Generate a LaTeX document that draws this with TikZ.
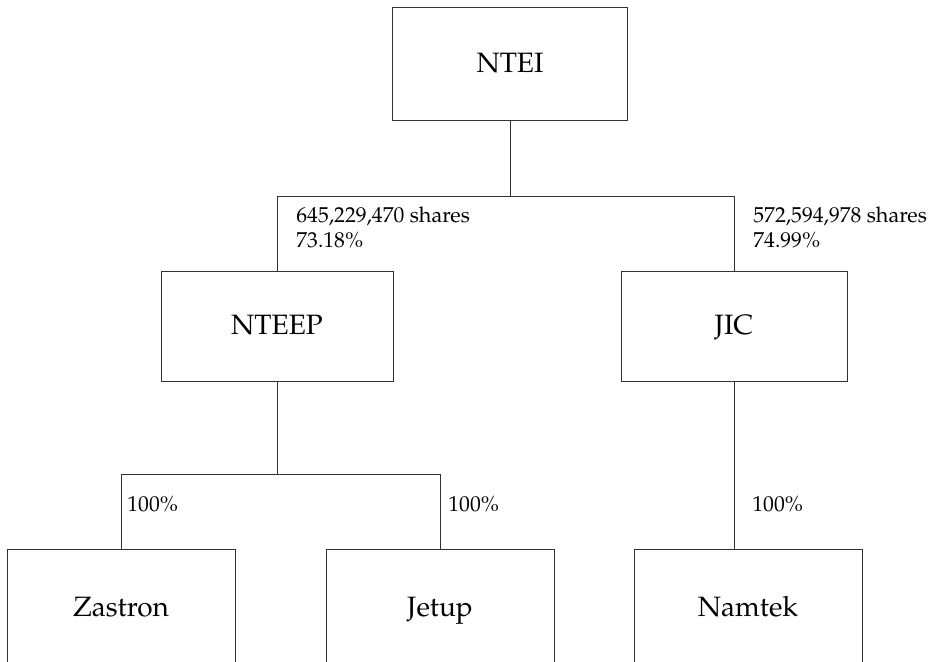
\documentclass[tikz,border=0pt]{standalone}
\usepackage[T1]{fontenc}
\usepackage{mathpazo}
\usetikzlibrary{positioning}

\tikzset{
    orgbox/.style={draw=black!80, line width=0.5pt, minimum width=115pt, minimum height=55pt, inner sep=0pt, text height=8.6pt, text depth=0pt, font=\fontsize{14}{17}\selectfont},
    linkline/.style={draw=black!80, line width=0.5pt},
    sharetext/.style={inner sep=0pt, align=left, font=\fontsize{10.8}{12.5}\selectfont}
}

\begin{document}
\begin{tikzpicture}[x=0.5pt, y=-0.5pt]
            \useasboundingbox (0,0) rectangle (934,661);
            % Boxes:
            % One per company, placed at coordinates:
            \node[orgbox, minimum width=117.5pt, minimum height=56.5pt] (NTEI) at (510,63.5) {NTEI};
            \node[orgbox, minimum width=116pt] (NTEEP) at (277,326) {NTEEP};
            \node[orgbox, minimum width=113pt] (JIC) at (734,326) {JIC};
            \node[orgbox, minimum width=114pt, minimum height=59pt] (Zastron) at (121,608) {Zastron};
            \node[orgbox, minimum width=114pt, minimum height=59pt] (Jetup) at (440,608) {Jetup};
            \node[orgbox, minimum width=114pt, minimum height=59pt] (Namtek) at (748,608) {Namtek};

            % Connectors:
            \coordinate (split1) at (510,196);
            \coordinate (split2) at (277,474);
            \draw[linkline] (NTEI.south) -- (split1);
            \draw[linkline] (NTEEP.north) |- (split1) -| (JIC.north);
            \draw[linkline] (NTEEP.south) -- (split2);
            \draw[linkline] (Zastron.north) |- (split2) -| (Jetup.north);
            \draw[linkline] (JIC.south) -- (JIC.south |- Namtek.north);

            % Holdings:
            \node[sharetext, anchor=north west] (holdNTEEP) at (296,206) {645,229,470 shares\\73.18\%};
            \node[sharetext, anchor=north west] (holdJIC) at (753,206) {572,594,978 shares\\74.99\%};
            \node[sharetext, anchor=base west] (holdZastron) at (127,511) {100\%};
            \node[sharetext, anchor=base west] (holdJetup) at (448,511) {100\%};
            \node[sharetext, anchor=base west] (holdNamtek) at (752,511) {100\%};
\end{tikzpicture}
\end{document}
